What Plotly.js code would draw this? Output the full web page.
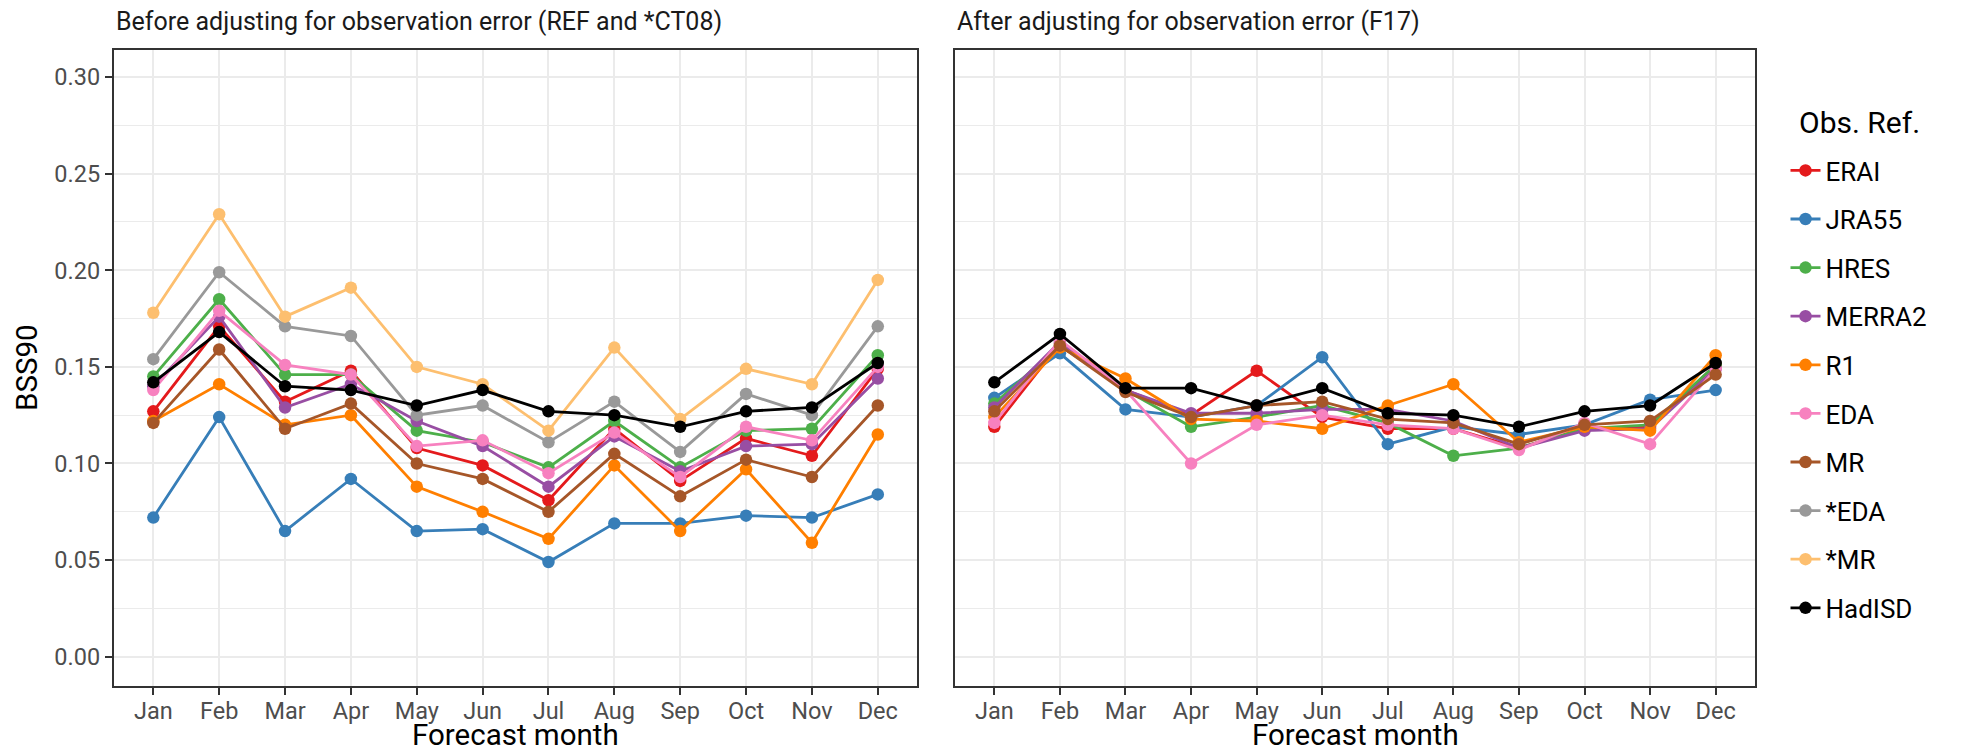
<!DOCTYPE html>
<html>
<head>
<meta charset="utf-8">
<script src="https://cdn.plot.ly/plotly-3.0.1.min.js"></script>
<style>html,body{margin:0;padding:0;background:#fff;}#chart{width:1969px;height:754px;}</style>
</head>
<body>
<div id="chart"></div>
<script>
// ---- data ----
const months = ["Jan","Feb","Mar","Apr","May","Jun","Jul","Aug","Sep","Oct","Nov","Dec"];
const seriesNames = ["ERAI","JRA55","HRES","MERRA2","R1","EDA","MR","*EDA","*MR","HadISD"];
const seriesColors = ["#E41A1C","#377EB8","#4DAF4A","#984EA3","#FF7F00","#F781BF","#A65628","#999999","#FDBF6F","#000000"];

// Before adjusting for observation error (REF and *CT08)
const before_ERAI   = [0.127,0.171,0.132,0.148,0.108,0.099,0.081,0.118,0.091,0.113,0.104,0.149];
const before_JRA55  = [0.072,0.124,0.065,0.092,0.065,0.066,0.049,0.069,0.069,0.073,0.072,0.084];
const before_HRES   = [0.145,0.185,0.146,0.146,0.117,0.111,0.098,0.122,0.098,0.117,0.118,0.156];
const before_MERRA2 = [0.140,0.176,0.129,0.141,0.122,0.109,0.088,0.114,0.096,0.109,0.110,0.144];
const before_R1     = [0.122,0.141,0.120,0.125,0.088,0.075,0.061,0.099,0.065,0.097,0.059,0.115];
const before_EDA    = [0.138,0.179,0.151,0.146,0.109,0.112,0.095,0.116,0.093,0.119,0.112,0.150];
const before_MR     = [0.121,0.159,0.118,0.131,0.100,0.092,0.075,0.105,0.083,0.102,0.093,0.130];
const before_sEDA   = [0.154,0.199,0.171,0.166,0.125,0.130,0.111,0.132,0.106,0.136,0.125,0.171];
const before_sMR    = [0.178,0.229,0.176,0.191,0.150,0.141,0.117,0.160,0.123,0.149,0.141,0.195];
const before_HadISD = [0.142,0.168,0.140,0.138,0.130,0.138,0.127,0.125,0.119,0.127,0.129,0.152];

// After adjusting for observation error (F17)
const after_ERAI    = [0.119,0.162,0.138,0.125,0.148,0.124,0.118,0.118,0.108,0.118,0.119,0.151];
const after_JRA55   = [0.134,0.157,0.128,0.124,0.130,0.155,0.110,0.119,0.115,0.120,0.133,0.138];
const after_HRES    = [0.131,0.161,0.138,0.119,0.124,0.130,0.121,0.104,0.108,0.118,0.120,0.151];
const after_MERRA2  = [0.129,0.163,0.138,0.126,0.126,0.128,0.128,0.122,0.108,0.117,0.118,0.149];
const after_R1      = [0.124,0.160,0.144,0.123,0.122,0.118,0.130,0.141,0.111,0.119,0.117,0.156];
const after_EDA     = [0.121,0.164,0.138,0.100,0.120,0.125,0.120,0.118,0.107,0.121,0.110,0.149];
const after_MR      = [0.127,0.161,0.137,0.124,0.130,0.132,0.123,0.121,0.110,0.120,0.122,0.146];
const after_HadISD  = [0.142,0.167,0.139,0.139,0.130,0.139,0.126,0.125,0.119,0.127,0.130,0.152];

const yTickVals = [0.00,0.05,0.10,0.15,0.20,0.25,0.30];

// ---- build traces ----
const beforeData = [before_ERAI,before_JRA55,before_HRES,before_MERRA2,before_R1,before_EDA,before_MR,before_sEDA,before_sMR,before_HadISD];
const afterData  = [after_ERAI,after_JRA55,after_HRES,after_MERRA2,after_R1,after_EDA,after_MR,null,null,after_HadISD];

const traces = [];
seriesNames.forEach((name,i)=>{
  traces.push({
    type:'scatter', mode:'lines+markers', name:name, legendgroup:name,
    x:months, y:beforeData[i], xaxis:'x', yaxis:'y',
    line:{color:seriesColors[i], width:2.8},
    marker:{color:seriesColors[i], size:12.5},
    showlegend:true
  });
});
seriesNames.forEach((name,i)=>{
  if(!afterData[i]) return;
  traces.push({
    type:'scatter', mode:'lines+markers', name:name, legendgroup:name,
    x:months, y:afterData[i], xaxis:'x2', yaxis:'y2',
    line:{color:seriesColors[i], width:2.8},
    marker:{color:seriesColors[i], size:12.5},
    showlegend:false
  });
});

const W=1969, H=754;
const yDom=[1-685.7/H, 1-50/H];
const font = 'Roboto, "Open Sans", sans-serif';

function xAxis(dom, anchor){
  return {
    domain:dom, anchor:anchor, type:'category', range:[-0.6,11.6],
    showgrid:true, gridcolor:'#EBEBEB', gridwidth:2,
    showline:true, linecolor:'#333333', linewidth:2, mirror:true,
    ticks:'outside', ticklen:7, tickwidth:2, tickcolor:'#333333',
    tickfont:{size:23.5, color:'#4D4D4D', family:font},
    ticklabelstandoff:-4,
    zeroline:false, fixedrange:true
  };
}
function yAxis(anchor, labels){
  return {
    domain:yDom, anchor:anchor, range:[-0.015,0.314],
    tickvals:yTickVals, tickformat:'.2f',
    showticklabels:labels,
    ticks: labels ? 'outside' : '', ticklen:7, tickwidth:2, tickcolor:'#333333',
    tickfont:{size:23.5, color:'#4D4D4D', family:font},
    showgrid:true, gridcolor:'#EBEBEB', gridwidth:2,
    minor:{dtick:0.025, tick0:0, showgrid:true, gridcolor:'#EBEBEB', gridwidth:1, ticks:''},
    showline:true, linecolor:'#333333', linewidth:2, mirror:true,
    zeroline:false, fixedrange:true
  };
}

const layout = {
  width:W, height:H,
  margin:{l:0,r:0,t:0,b:0},
  paper_bgcolor:'#ffffff', plot_bgcolor:'#ffffff',
  font:{family:font, size:23, color:'#000000'},
  xaxis: xAxis([113.8/W, 917.3/W], 'y'),
  yaxis: yAxis('x', true),
  xaxis2: xAxis([955/W, 1755/W], 'y2'),
  yaxis2: yAxis('x2', false),
  showlegend:true,
  legend:{
    x:1785.5/W, xanchor:'left', y:1-147/H, yanchor:'top',
    font:{size:26, color:'#000', family:font},
    tracegroupgap:11.8, bgcolor:'rgba(0,0,0,0)', traceorder:'grouped'
  },
  annotations:[
    {text:'Before adjusting for observation error (REF and *CT08)', xref:'paper', yref:'paper',
     x:114/W, xanchor:'left', y:1-21/H, yanchor:'middle', showarrow:false,
     font:{size:25, color:'#1A1A1A', family:font}},
    {text:'After adjusting for observation error (F17)', xref:'paper', yref:'paper',
     x:955/W, xanchor:'left', y:1-21/H, yanchor:'middle', showarrow:false,
     font:{size:25, color:'#1A1A1A', family:font}},
    {text:'Forecast month', xref:'paper', yref:'paper',
     x:515.5/W, xanchor:'center', y:0, yanchor:'bottom', showarrow:false,
     font:{size:29.5, color:'#000', family:font}},
    {text:'Forecast month', xref:'paper', yref:'paper',
     x:1355/W, xanchor:'center', y:0, yanchor:'bottom', showarrow:false,
     font:{size:29.5, color:'#000', family:font}},
    {text:'BSS90', xref:'paper', yref:'paper', textangle:-90,
     x:27/W, xanchor:'center', y:1-367.9/H, yanchor:'middle', showarrow:false,
     font:{size:29.5, color:'#000', family:font}},
    {text:'Obs. Ref.', xref:'paper', yref:'paper',
     x:1797/W, xanchor:'left', y:1-122/H, yanchor:'middle', showarrow:false,
     font:{size:30, color:'#000', family:font}}
  ]
};

Plotly.newPlot('chart', traces, layout, {displayModeBar:false, staticPlot:true});
</script>
</body>
</html>
